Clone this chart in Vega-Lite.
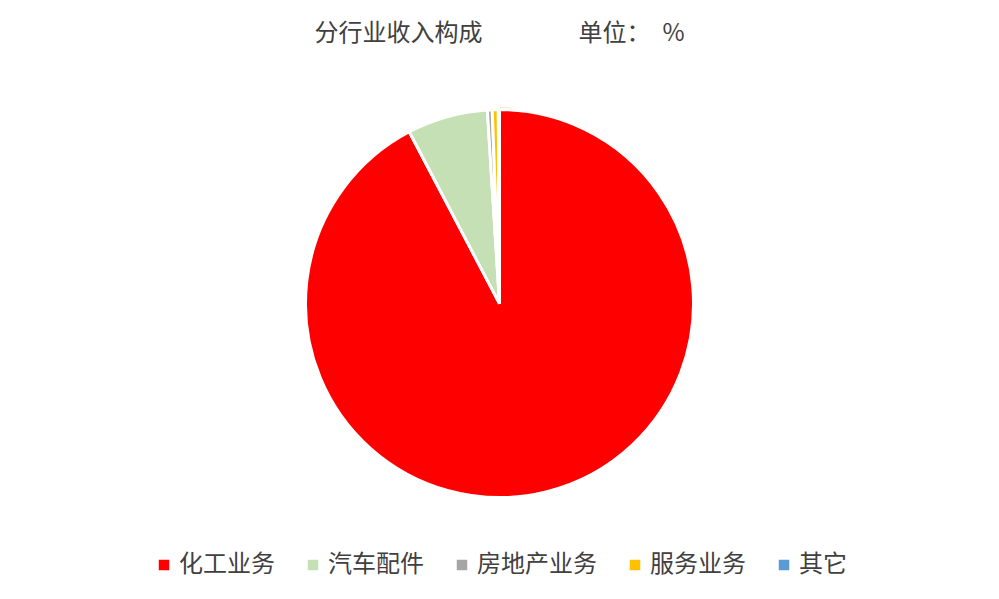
{
  "$schema": "https://vega.github.io/schema/vega-lite/v6.json",
  "autosize": {"type": "fit", "contains": "padding"},
  "width": 999,
  "height": 599,
  "padding": {"top": 22, "bottom": 44, "left": 0, "right": 0},
  "background": "white",
  "title": {
    "text": "分行业收入构成　　　　单位：　%",
    "font": "Noto Sans CJK SC",
    "fontSize": 24,
    "fontWeight": "normal",
    "color": "#404040",
    "anchor": "middle",
    "offset": 6
  },
  "datasets": {
    "ring": [{"v": 1}],
    "segments": [
      {"segment": "化工业务", "share": 92.3, "rank": 1},
      {"segment": "汽车配件", "share": 6.7, "rank": 2},
      {"segment": "房地产业务", "share": 0.4, "rank": 3},
      {"segment": "服务业务", "share": 0.5, "rank": 4},
      {"segment": "其它", "share": 0.1, "rank": 5}
    ]
  },
  "layer": [
    {
      "data": {"name": "ring"},
      "mark": {"type": "arc", "radius": 196.5, "fill": "#FBE8CC"},
      "encoding": {"theta": {"field": "v", "type": "quantitative"}}
    },
    {
      "data": {"name": "segments"},
      "mark": {"type": "arc", "radius": 194, "stroke": "white", "strokeWidth": 3},
      "encoding": {
        "theta": {"field": "share", "type": "quantitative", "stack": true},
        "order": {"field": "rank", "type": "quantitative"},
        "color": {
          "field": "segment",
          "type": "nominal",
          "sort": ["化工业务", "汽车配件", "房地产业务", "服务业务", "其它"],
          "scale": {
            "domain": ["化工业务", "汽车配件", "房地产业务", "服务业务", "其它"],
            "range": ["#FF0000", "#C5E0B4", "#A5A5A5", "#FFC000", "#5B9BD5"]
          },
          "legend": {
            "title": null,
            "orient": "none",
            "legendX": 152,
            "legendY": 501,
            "padding": 0,
            "direction": "horizontal",
            "symbolType": "square",
            "symbolSize": 110,
            "symbolStrokeWidth": 0,
            "labelFont": "Noto Sans CJK SC",
            "labelFontSize": 24,
            "labelColor": "#404040",
            "labelOffset": 3,
            "columnPadding": 26
          }
        }
      }
    }
  ]
}
